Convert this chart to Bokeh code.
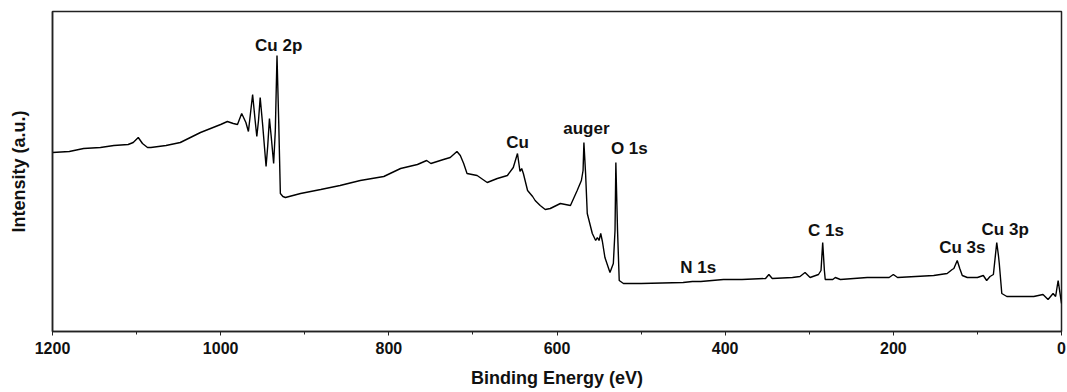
from bokeh.plotting import figure
from bokeh.models import Range1d, FixedTicker, ColumnDataSource
from bokeh.core.properties import value
from bokeh.embed import file_html
from bokeh.resources import INLINE

# Binding energy (eV) and intensity (a.u.)
energy = [1200, 1180, 1163, 1143, 1127, 1110, 1104, 1098, 1093, 1087, 1083, 1065, 1048, 1024, 1000, 992, 985, 980,
          975, 970, 967, 962, 959, 957, 955, 953, 950, 946, 944, 942, 940, 937, 935, 933, 931,
          929, 926, 923, 905, 881, 858, 834, 806, 786, 766, 755, 750, 735, 727, 719, 715, 711, 707,
          695, 683, 671, 659, 652, 647, 644, 642, 640, 635, 629, 626, 620, 614, 608, 596, 584,
          576, 571, 569, 568, 566, 564, 558, 554, 552, 550, 548, 546, 543, 537, 533, 531, 530,
          528, 526, 521, 500, 450, 439, 429, 402, 380, 352, 348, 344, 320, 311, 305, 299, 289,
          286, 284, 282, 281, 272, 269, 263, 231, 205, 200, 195, 152, 136, 130, 128, 124, 121,
          118, 112, 100, 93, 89, 85, 81, 77, 75, 74, 71, 65, 33, 22, 16, 10, 7, 4, 0]
intensity = [179, 180, 183, 184, 186, 187, 189, 194, 188, 184, 184, 186, 189, 199, 207, 210, 208, 207,
             218, 209, 200, 237, 211, 195, 211, 234, 206, 165, 186, 213, 196, 168, 201, 276, 211,
             138, 135, 134, 138, 142, 146, 151, 155, 163, 167, 171, 168, 172, 174, 180, 176, 168, 158,
             156, 149, 153, 156, 164, 178, 160, 163, 158, 141, 135, 131, 126, 122, 123, 128, 126,
             141, 151, 161, 189, 158, 118, 98, 91, 94, 91, 98, 90, 74, 59, 68, 101, 169,
             101, 51, 48, 48, 49, 50, 50, 52, 52, 53, 57, 53, 54, 55, 59, 54, 57,
             61, 89, 61, 52, 52, 54, 52, 54, 54, 57, 54, 56, 58, 62, 63, 71, 63,
             56, 54, 54, 56, 51, 55, 57, 89, 76, 68, 38, 35, 35, 37, 32, 38, 35, 51, 28]

# Peak annotations
label_text = ["Cu 2p", "Cu", "auger", "O 1s", "N 1s", "C 1s", "Cu 3s", "Cu 3p"]
label_x = [931, 647, 565, 514, 432, 280, 118, 67]
label_y = [286, 189, 203, 183, 64, 101, 84, 102]

x_ticks = [1200, 1000, 800, 600, 400, 200, 0]
x_minor = [1100, 900, 700, 500, 300, 100]

FONT = "Liberation Sans"

p = figure(width=1067, height=392, output_backend="svg", toolbar_location=None,
           x_range=Range1d(1200, 0), y_range=Range1d(0, 320),
           min_border_left=52, min_border_right=6, min_border_top=11, min_border_bottom=61)
p.grid.visible = False
p.background_fill_color = "white"
p.outline_line_color = "#222222"
p.outline_line_width = 1.5

p.line(energy, intensity, line_color="black", line_width=1.4)

src = ColumnDataSource(dict(x=label_x, y=label_y, t=label_text))
p.text(x="x", y="y", text="t", source=src, text_font=value(FONT), text_font_style="bold",
       text_font_size="17px", text_align="center", text_baseline="middle", text_color="#111111")

xa = p.xaxis[0]
xa.ticker = FixedTicker(ticks=x_ticks, minor_ticks=x_minor)
xa.axis_label = "Binding Energy (eV)"
xa.axis_label_text_font = FONT
xa.axis_label_text_font_style = "bold"
xa.axis_label_text_font_size = "18px"
xa.axis_label_text_color = "#111111"
xa.axis_label_standoff = 11
xa.major_label_text_font = FONT
xa.major_label_text_font_style = "bold"
xa.major_label_text_font_size = "16px"
xa.major_label_text_color = "#111111"
xa.major_label_standoff = 6
xa.major_tick_in = 0
xa.major_tick_out = 4
xa.minor_tick_in = 0
xa.minor_tick_out = 3
xa.axis_line_color = "#222222"
xa.axis_line_width = 1.5
xa.major_tick_line_color = "#222222"
xa.minor_tick_line_color = "#222222"

ya = p.yaxis[0]
ya.ticker = FixedTicker(ticks=[])
ya.axis_label = "Intensity (a.u.)"
ya.axis_label_text_font = FONT
ya.axis_label_text_font_style = "bold"
ya.axis_label_text_font_size = "18px"
ya.axis_label_text_color = "#111111"
ya.axis_label_standoff = 24
ya.major_tick_in = 0
ya.major_tick_out = 0
ya.minor_tick_in = 0
ya.minor_tick_out = 0
ya.major_label_standoff = 0
ya.axis_line_color = "#222222"
ya.axis_line_width = 1.5

open("out.html", "w").write(file_html(p, INLINE))
